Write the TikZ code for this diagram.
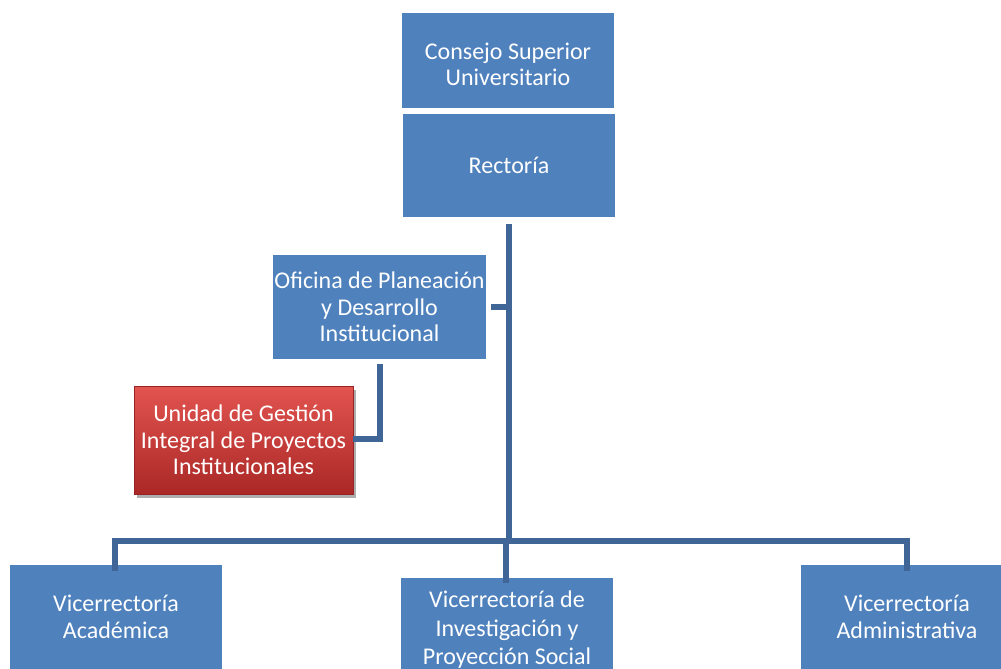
\documentclass[tikz,border=0pt]{standalone}
\usepackage{fontspec}
\setmainfont{Carlito}
\usetikzlibrary{shadows}
\definecolor{boxblue}{RGB}{79,129,189}
\definecolor{linkblue}{RGB}{64,102,152}
\definecolor{redtop}{RGB}{226,84,80}
\definecolor{redbot}{RGB}{170,40,38}
\definecolor{redrim}{RGB}{150,36,34}
\tikzset{
  unit/.style={fill=boxblue, text=white, align=center, inner sep=0pt,
    minimum width=212pt, font=\fontsize{24}{26.5}\selectfont},
  caption/.style={text=white, align=center, inner sep=0pt,
    font=\fontsize{24}{26.5}\selectfont},
  redunit/.style={unit, fill=none, top color=redtop, bottom color=redbot,
    draw=redrim, line width=0.6pt,
    drop shadow={shadow xshift=3pt, shadow yshift=-4pt, opacity=0.45, fill=black!70}},
  link/.style={draw=linkblue, line width=5.5pt}
}
\begin{document}
\begin{tikzpicture}[x=1pt, y=-1pt]
  \useasboundingbox (0,0) rectangle (1001,669);
  \clip (0,0) rectangle (1001,669);

  % upper governing bodies
  \node[unit, minimum height=95pt]  (csu)  at (508,60.5)  {};
  \node[caption] (csutext) at (508,64.5) {Consejo Superior\\Universitario};
  \node[unit, minimum height=103pt] (rect) at (509,165.5) {Rectoría};

  % staff office and its unit
  \node[unit, minimum width=213pt, minimum height=104pt] (opdi) at (379.5,307) {Oficina de Planeación\\y Desarrollo\\Institucional};
  \node[redunit, minimum width=219pt, minimum height=108pt] (ugip) at (243.5,440) {Unidad de Gestión\\Integral de Proyectos\\Institucionales};

  % vice-rectorates
  \node[unit, minimum height=104pt] (vac)  at (116,617) {Vicerrectoría\\Académica};
  \node[unit, minimum height=104pt, font=\fontsize{24}{28.5}\selectfont] (vips) at (507,630) {Vicerrectoría de\\Investigación y\\Proyección Social};
  \node[unit, minimum height=104pt] (vad)  at (907,617) {Vicerrectoría\\Administrativa};

  % connector points
  \coordinate (trunk) at (509,224);
  \coordinate (bar)   at (509,541);
  \coordinate (barL)  at (115,541);
  \coordinate (barR)  at (907,541);
  \coordinate (barM)  at (506,541);
  \coordinate (elbow) at (380,439);

  % connectors
  \draw[link] (trunk) -- (bar);
  \draw[link] ([yshift=-6pt]vac.north -| barL) -- (barL) -- (barR) -- ([yshift=-6pt]vad.north -| barR);
  \draw[link] (barM) -- ([yshift=-5pt]vips.north -| barM);
  \draw[link] ([xshift=5pt]opdi.east) -- (opdi.east -| bar);
  \draw[link] ([yshift=-5pt]opdi.south -| elbow) -- (elbow) -- (ugip.east |- elbow);
\end{tikzpicture}
\end{document}
